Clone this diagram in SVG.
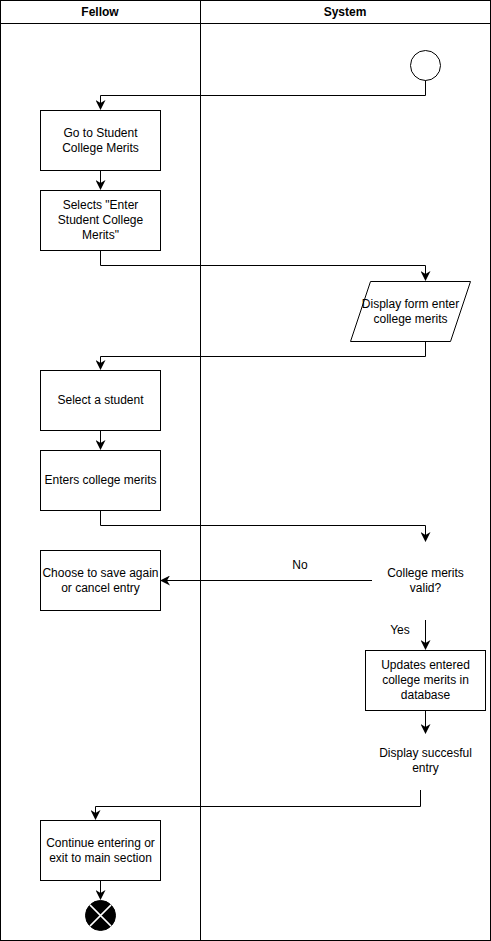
<svg xmlns="http://www.w3.org/2000/svg" width="491" height="941" viewBox="0 0 491 941">
<defs>
<marker id="arr" viewBox="0 0 10 10" refX="9" refY="5" markerWidth="10" markerHeight="10" markerUnits="userSpaceOnUse" orient="auto">
<path d="M0,0 L10,5 L0,10 L3,5 Z" fill="#000"/>
</marker>
</defs>
<style>
text{font-family:"Liberation Sans",Arial,sans-serif;font-size:12px;fill:#000;text-anchor:middle}
.h{font-weight:bold}
.box{fill:#fff;stroke:#000;stroke-width:1}
.edge{fill:none;stroke:#000;stroke-width:1}
</style>
<rect x="0" y="0" width="491" height="941" fill="#fff"/>
<g id="pool">
<rect x="0.5" y="0.5" width="490" height="940" fill="none" stroke="#000"/>
<line x1="0.5" y1="23.5" x2="490.5" y2="23.5" stroke="#000"/>
<line x1="200.5" y1="0.5" x2="200.5" y2="940.5" stroke="#000"/>
<text class="h" x="100" y="16">Fellow</text>
<text class="h" x="345" y="16">System</text>
</g>
<g id="connectors">
<path class="edge" d="M425.5,80 V95.5 H100.5 V109" marker-end="url(#arr)"/>
<path class="edge" d="M100.5,170 V189" marker-end="url(#arr)"/>
<path class="edge" d="M100.5,250 V265.5 H425.5 V280" marker-end="url(#arr)"/>
<path class="edge" d="M425.5,341 V356.5 H100.5 V369" marker-end="url(#arr)"/>
<path class="edge" d="M100.5,430 V449" marker-end="url(#arr)"/>
<path class="edge" d="M100.5,510 V525.5 H425.5 V541" marker-end="url(#arr)"/>
<path class="edge" d="M372,580.5 H161" marker-end="url(#arr)"/>
<path class="edge" d="M425.5,620 V649" marker-end="url(#arr)"/>
<path class="edge" d="M425.5,710 V733" marker-end="url(#arr)"/>
<path class="edge" d="M420.5,790 V806.5 H95.5 V819" marker-end="url(#arr)"/>
<path class="edge" d="M100.5,880 V899" marker-end="url(#arr)"/>
<text x="300" y="569">No</text>
<text x="400" y="634">Yes</text>
</g>
<g id="start">
<circle cx="425.5" cy="65.5" r="15" fill="#fff" stroke="#000"/>
</g>
<g id="n1">
<rect class="box" x="40.5" y="110.5" width="120" height="60"/>
<text x="100.5" y="137">Go to Student</text>
<text x="100.5" y="152">College Merits</text>
</g>
<g id="n2">
<rect class="box" x="40.5" y="190.5" width="120" height="60"/>
<text x="100.5" y="209">Selects "Enter</text>
<text x="100.5" y="224">Student College</text>
<text x="100.5" y="239">Merits"</text>
</g>
<g id="n3">
<polygon class="box" points="350.5,341.5 370.5,281.5 470.5,281.5 450.5,341.5"/>
<text x="410.5" y="308">Display form enter</text>
<text x="410.5" y="323">college merits</text>
</g>
<g id="n4">
<rect class="box" x="40.5" y="370.5" width="120" height="60"/>
<text x="100.5" y="404">Select a student</text>
</g>
<g id="n5">
<rect class="box" x="40.5" y="450.5" width="120" height="60"/>
<text x="100.5" y="484">Enters college merits</text>
</g>
<g id="decision">
<text x="425.5" y="577">College merits</text>
<text x="425.5" y="592">valid?</text>
</g>
<g id="n6">
<rect class="box" x="40.5" y="550.5" width="120" height="60"/>
<text x="100.5" y="577">Choose to save again</text>
<text x="100.5" y="592">or cancel entry</text>
</g>
<g id="n7">
<rect class="box" x="365.5" y="650.5" width="120" height="60"/>
<text x="425.5" y="669">Updates entered</text>
<text x="425.5" y="684">college merits in</text>
<text x="425.5" y="699">database</text>
</g>
<g id="n8">
<text x="425.5" y="757">Display succesful</text>
<text x="425.5" y="772">entry</text>
</g>
<g id="n9">
<rect class="box" x="40.5" y="820.5" width="120" height="60"/>
<text x="100.5" y="847">Continue entering or</text>
<text x="100.5" y="862">exit to main section</text>
</g>
<g id="end">
<circle cx="100.5" cy="915.5" r="15" fill="#000" stroke="#000"/>
<path d="M89.9,904.9 L111.1,926.1 M111.1,904.9 L89.9,926.1" stroke="#fff" stroke-width="1.5"/>
</g>
</svg>
